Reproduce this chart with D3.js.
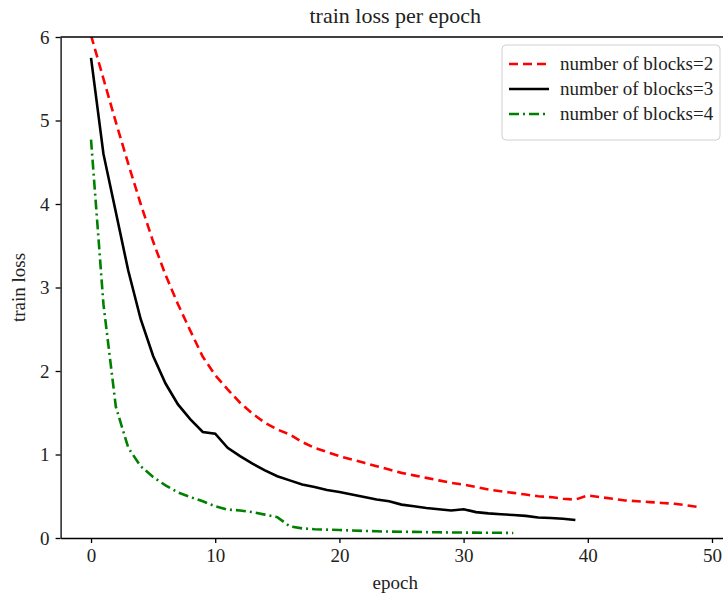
<!DOCTYPE html>
<html>
<head>
<meta charset="utf-8">
<script src="https://cdn.jsdelivr.net/npm/d3@7"></script>
<style>
  body { margin: 0; background: #fff; }
  svg { font-family: "Liberation Serif", "DejaVu Serif", serif; }
  .axis path, .axis line { stroke: #000; stroke-width: 1.3; }
  .axis text { font-size: 19px; fill: #222; font-family: "Liberation Serif", "DejaVu Serif", serif; }
</style>
</head>
<body>
<div id="chart"></div>
<script>
// train loss per epoch
const series = ['number of blocks=2', 'number of blocks=3', 'number of blocks=4'];

const blocks2 = [6.02, 5.5, 4.98, 4.48, 4.0, 3.55, 3.15, 2.8, 2.48, 2.17, 1.95, 1.78, 1.62, 1.49, 1.38, 1.3, 1.24,
  1.15, 1.08, 1.03, 0.98, 0.94, 0.9, 0.86, 0.82, 0.78, 0.75, 0.72, 0.69, 0.66, 0.64, 0.61, 0.58, 0.56, 0.54,
  0.52, 0.5, 0.49, 0.47, 0.46, 0.51, 0.49, 0.47, 0.45, 0.44, 0.43, 0.42, 0.41, 0.39, 0.37];

const blocks3 = [5.75, 4.6, 3.9, 3.2, 2.62, 2.18, 1.85, 1.6, 1.42, 1.27, 1.25, 1.08, 0.98, 0.89, 0.81, 0.74, 0.69,
  0.64, 0.61, 0.575, 0.55, 0.52, 0.49, 0.46, 0.44, 0.4, 0.38, 0.36, 0.345, 0.33, 0.345, 0.31, 0.295, 0.285,
  0.275, 0.265, 0.245, 0.24, 0.23, 0.215];

const blocks4 = [4.77, 2.8, 1.57, 1.08, 0.86, 0.73, 0.63, 0.545, 0.49, 0.44, 0.38, 0.34, 0.33, 0.31, 0.28, 0.25,
  0.14, 0.115, 0.105, 0.1, 0.095, 0.09, 0.085, 0.08, 0.077, 0.075, 0.073, 0.07, 0.068, 0.066, 0.065, 0.064,
  0.063, 0.062, 0.06];

const xTicks = [0, 10, 20, 30, 40, 50];
const yTicks = [0, 1, 2, 3, 4, 5, 6];

const styles = [
  {color: '#ff0000', dash: '9,5'},
  {color: '#000000', dash: null},
  {color: '#008000', dash: '10,4,2,4'}
];

const width = 723, height = 599;
const plot = {left: 60.6, right: 730, top: 37, bottom: 538};

const svg = d3.select('#chart').append('svg')
    .attr('width', width)
    .attr('height', height);

const x = d3.scaleLinear().domain([-2.45, 51.45]).range([plot.left, plot.right]);
const y = d3.scaleLinear().domain([0, 6]).range([plot.bottom, plot.top]);

svg.append('clipPath').attr('id', 'clip')
  .append('rect')
    .attr('x', plot.left).attr('y', plot.top)
    .attr('width', plot.right - plot.left).attr('height', plot.bottom - plot.top);

// lines
const line = d3.line()
    .x((d, i) => x(i))
    .y(d => y(d));

const data = [blocks2, blocks3, blocks4];
svg.append('g').attr('clip-path', 'url(#clip)')
  .selectAll('path')
  .data(data)
  .join('path')
    .attr('d', line)
    .attr('fill', 'none')
    .attr('stroke', (d, i) => styles[i].color)
    .attr('stroke-width', 2.6)
    .attr('stroke-dasharray', (d, i) => styles[i].dash);

// axes
svg.append('g')
    .attr('class', 'axis')
    .attr('transform', `translate(0,${plot.bottom})`)
    .call(d3.axisBottom(x).tickValues(xTicks).tickFormat(d3.format('d'))
      .tickSize(5).tickPadding(6).tickSizeOuter(0));

svg.append('g')
    .attr('class', 'axis')
    .attr('transform', `translate(${plot.left},0)`)
    .call(d3.axisLeft(y).tickValues(yTicks).tickFormat(d3.format('d'))
      .tickSize(5).tickPadding(6).tickSizeOuter(0));

svg.selectAll('.axis').attr('font-family', null).attr('font-size', null);

// top spine
svg.append('line')
    .attr('x1', plot.left).attr('x2', plot.right)
    .attr('y1', plot.top).attr('y2', plot.top)
    .attr('stroke', '#000').attr('stroke-width', 1.3);

// title and labels
svg.append('text')
    .attr('x', (plot.left + plot.right) / 2)
    .attr('y', 23)
    .attr('text-anchor', 'middle')
    .attr('font-size', 22)
    .attr('fill', '#222')
    .text('train loss per epoch');

svg.append('text')
    .attr('x', (plot.left + plot.right) / 2)
    .attr('y', 589)
    .attr('text-anchor', 'middle')
    .attr('font-size', 19)
    .attr('fill', '#222')
    .text('epoch');

svg.append('text')
    .attr('transform', `translate(25,${(plot.top + plot.bottom) / 2}) rotate(-90)`)
    .attr('text-anchor', 'middle')
    .attr('font-size', 19)
    .attr('fill', '#222')
    .text('train loss');

// legend
const legend = svg.append('g').attr('transform', 'translate(502,45)');
legend.append('rect')
    .attr('width', 218).attr('height', 95)
    .attr('rx', 4)
    .attr('fill', '#fff')
    .attr('stroke', '#d0d0d0');

const item = legend.selectAll('g.item')
  .data(series)
  .join('g')
    .attr('class', 'item')
    .attr('transform', (d, i) => `translate(0,${19 + i * 25})`);

item.append('line')
    .attr('x1', 7).attr('x2', 47)
    .attr('stroke', (d, i) => styles[i].color)
    .attr('stroke-width', 2.6)
    .attr('stroke-dasharray', (d, i) => styles[i].dash);

item.append('text')
    .attr('x', 58)
    .attr('y', 6)
    .attr('font-size', 19)
    .attr('fill', '#222')
    .text(d => d);
</script>
</body>
</html>
